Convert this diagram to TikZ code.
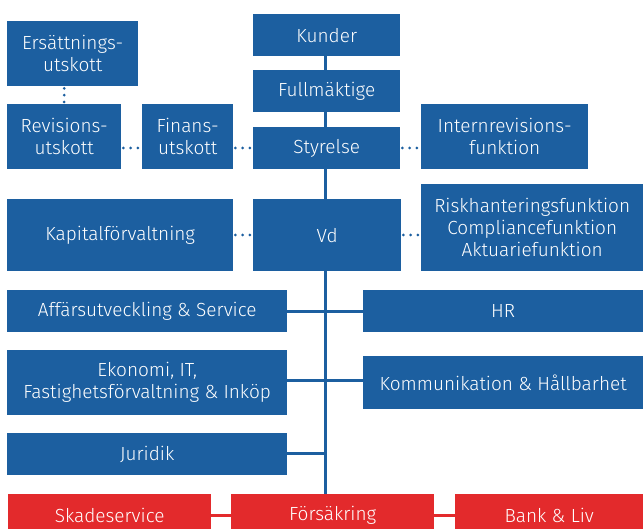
\documentclass[tikz,border=0pt]{standalone}
\usepackage{fontspec}
\setmainfont{Fira Sans Light}
\usetikzlibrary{calc}
\definecolor{bblue}{RGB}{28,95,160}
\definecolor{rred}{RGB}{227,42,44}
\tikzset{
  box/.style={fill=bblue, text=white, inner sep=0pt, align=center, font=\fontsize{19}{22}\selectfont},
  rbox/.style={box, fill=rred},
  spine/.style={draw=bblue, line width=3pt},
  rline/.style={draw=rred, line width=3pt},
  dots/.style={draw=bblue, line width=3pt, line cap=round, dash pattern=on 0pt off 7.2pt},
  vdots/.style={dots, dash pattern=on 0pt off 6.8pt},
}
\newcommand{\bx}[7][box]{%
  \node[#1, minimum width=#5pt-#3pt, minimum height=#6pt-#4pt, anchor=north west] (#2) at (#3,#4) {#7};}
\begin{document}
\begin{tikzpicture}[x=1pt,y=-1pt]
\useasboundingbox (0,0) rectangle (643,529);
% connectors first
\coordinate (top) at (325,40);
\coordinate (bot) at (325,500);
\draw[spine] (top) -- (bot);
\bx{ers}{7}{21}{138}{86}{Ersättnings-\\utskott}
\bx{rev}{7}{104}{121}{169}{Revisions-\\utskott}
\bx{fin}{142}{104}{233}{169}{Finans-\\utskott}
\bx{kun}{253}{14}{400}{56}{Kunder}
\bx{full}{253}{70}{400}{112}{Fullmäktige}
\bx{sty}{253}{127}{400}{169}{Styrelse}
\bx{intr}{421}{104}{588}{169}{Internrevisions-\\funktion}
\bx{kap}{7}{199}{233}{271}{Kapitalförvaltning}
\bx{vd}{253}{199}{401}{271}{Vd}
\bx{risk}{421}{184}{643}{271}{Riskhanteringsfunktion\\Compliancefunktion\\Aktuariefunktion}
\bx{aff}{7}{290}{287}{332}{Affärsutveckling \& Service}
\bx{hr}{363}{290}{643}{332}{HR}
\bx{eko}{7}{350}{287}{415}{Ekonomi, IT,\\Fastighetsförvaltning \& Inköp}
\bx{kom}{363}{356}{643}{409}{Kommunikation \& Hållbarhet}
\bx{jur}{7}{433}{287}{475}{Juridik}
\bx[rbox]{ska}{8}{494}{211}{536}{Skadeservice}
\bx[rbox]{fors}{231}{494}{434}{536}{Försäkring}
\bx[rbox]{bank}{455}{494}{643}{536}{Bank \& Liv}
% spine branches
\draw[spine] (aff.east) -- (hr.west);
\draw[spine] (eko.east |- 0,381) -- (kom.west |- 0,381);
\draw[spine] (jur.east |- 0,453) -- (325,453);
% red links
\draw[rline] (ska.east |- 0,515) -- (fors.west |- 0,515);
\draw[rline] (fors.east |- 0,515) -- (bank.west |- 0,515);
% dotted links
\draw[vdots] ($(ers.south -| rev.north)+(0,2)$) -- ($(rev.north)+(0,-2)$);
\draw[dots] ($(rev.east |- 0,148)+(2,0)$) -- ($(fin.west |- 0,148)+(-2.5,0)$);
\draw[dots] ($(fin.east |- 0,148)+(2,0)$) -- ($(sty.west |- 0,148)+(-2.5,0)$);
\draw[dots] ($(sty.east |- 0,148)+(2,0)$) -- ($(intr.west |- 0,148)+(-2.5,0)$);
\draw[dots] ($(kap.east |- 0,235)+(2,0)$) -- ($(vd.west |- 0,235)+(-2.5,0)$);
\draw[dots] ($(vd.east |- 0,235)+(2,0)$) -- ($(risk.west |- 0,235)+(-2.5,0)$);
\end{tikzpicture}
\end{document}
